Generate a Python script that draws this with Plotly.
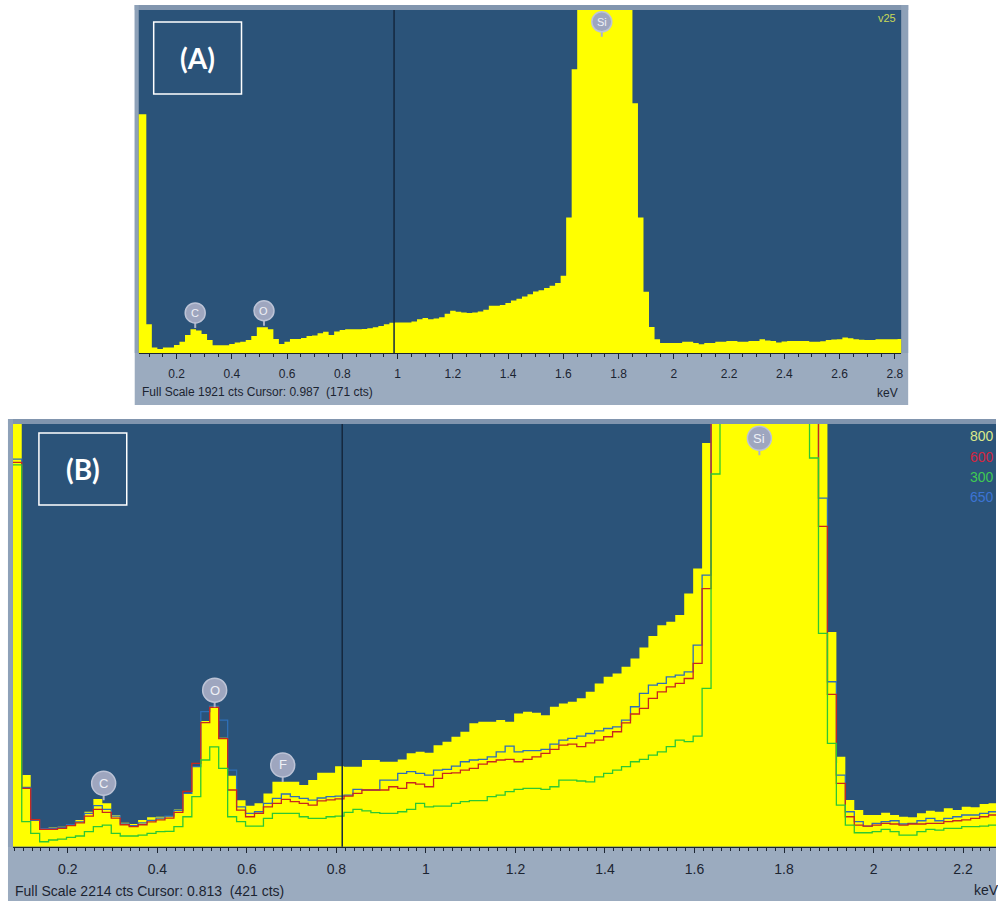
import numpy as np
import plotly.graph_objects as go

W, H = 998, 901

# ---------------- Spectrum (A): 20 eV channels, first channel centred at 0.06 keV
A_START = 0.06
A_STEP = 0.02
A_COUNTS = [
    1337, 1337, 163, 33, 24, 33, 33, 47, 65, 103,
    134, 128, 108, 75, 45, 45, 45, 52, 60, 65,
    75, 97, 146, 146, 134, 80, 52, 65, 80, 80,
    85, 97, 100, 112, 120, 103, 122, 131, 134, 134,
    134, 136, 140, 146, 153, 163, 171, 172, 172, 172,
    178, 190, 197, 191, 195, 202, 221, 238, 232, 228,
    225, 228, 234, 243, 266, 266, 270, 281, 296, 305,
    318, 330, 346, 353, 365, 378, 393, 434, 760, 1590,
    2350, 2900, 3400, 3800, 3950, 3800, 3450, 3000, 2600, 2200,
    1399, 760, 344, 147, 79, 58, 58, 58, 58, 65,
    65, 58, 51, 58, 58, 65, 65, 69, 69, 65,
    65, 69, 69, 79, 72, 69, 60, 66, 69, 69,
    69, 69, 65, 65, 67, 75, 77, 79, 88, 84,
    79, 76, 75, 75, 78, 79, 79, 79, 80,
]
A_FULL_SCALE = 1921
A_CURSOR = 0.987
A_CURSOR_CTS = 171
A_TAG = "v25"

# ---------------- Spectrum (B): four overlaid acquisitions, 20 eV channels
B_START = 0.087
B_STEP = 0.02
B_800 = [
    2600, 375, 140, 96, 100, 105, 119, 140, 183, 250,
    227, 166, 126, 119, 140, 154, 157, 160, 195, 279,
    422, 658, 736, 570, 372, 243, 214, 228, 279, 340,
    340, 340, 323, 350, 387, 387, 421, 419, 419, 454,
    454, 445, 445, 457, 489, 497, 492, 532, 550, 576,
    602, 646, 654, 654, 663, 654, 698, 707, 701, 689,
    733, 750, 759, 777, 811, 855, 890, 907, 942, 986,
    1043, 1103, 1160, 1178, 1213, 1326, 1457, 2115, 2700, 3600,
    4600, 5500, 6100, 6300, 6100, 5500, 4700, 3900, 3200, 2700,
    2350, 1125, 471, 245, 192, 166, 166, 178, 166, 157,
    154, 175, 188, 183, 201, 192, 209, 206, 223, 227,
]
B_650 = [
    2030, 310, 138, 94, 96, 100, 115, 130, 175, 215,
    195, 160, 120, 110, 125, 138, 150, 160, 190, 279,
    419, 707, 736, 663, 401, 209, 175, 183, 227, 253,
    276, 262, 253, 244, 255, 262, 265, 270, 300, 297,
    297, 349, 349, 384, 393, 384, 375, 401, 405, 422,
    445, 454, 457, 471, 497, 527, 497, 503, 503, 510,
    537, 558, 567, 579, 593, 607, 619, 628, 663, 733,
    803, 846, 855, 890, 899, 916, 1056, 1422, 2600, 3300,
    4100, 4800, 5200, 5300, 5100, 4600, 3900, 3200, 2700, 2350,
    1826, 864, 375, 183, 131, 108, 122, 131, 136, 119,
    122, 136, 148, 136, 148, 157, 166, 166, 175, 183,
]
B_600 = [
    2013, 305, 142, 91, 91, 96, 110, 125, 160, 195,
    180, 150, 115, 105, 115, 130, 140, 150, 180, 290,
    436, 650, 730, 566, 297, 192, 157, 175, 209, 227,
    248, 236, 227, 218, 240, 245, 250, 265, 279, 297,
    297, 297, 314, 305, 335, 328, 314, 358, 384, 387,
    401, 410, 433, 445, 454, 457, 445, 457, 471, 489,
    510, 532, 537, 524, 544, 558, 576, 602, 649, 695,
    724, 777, 811, 837, 855, 881, 960, 1352, 2500, 3200,
    3900, 4500, 4900, 5000, 4800, 4300, 3700, 3100, 2600, 2300,
    1678, 798, 332, 157, 113, 108, 113, 122, 119, 113,
    119, 119, 122, 122, 131, 136, 140, 148, 157, 166,
]
B_300 = [
    2000, 131, 70, 26, 35, 40, 49, 56, 79, 105,
    113, 70, 56, 56, 61, 70, 79, 80, 105, 157,
    262, 454, 523, 410, 157, 131, 108, 108, 148, 175,
    175, 175, 157, 148, 148, 157, 160, 180, 195, 188,
    178, 175, 175, 183, 195, 227, 209, 213, 213, 227,
    236, 241, 241, 262, 270, 288, 300, 305, 305, 300,
    314, 349, 349, 344, 340, 366, 384, 401, 419, 445,
    457, 480, 497, 524, 558, 550, 579, 829, 1952, 2600,
    3300, 3800, 4100, 4200, 4100, 3800, 3300, 2800, 2400, 2036,
    1117, 541, 218, 113, 73, 73, 79, 91, 79, 61,
    61, 79, 91, 87, 96, 96, 105, 105, 108, 113,
]
B_FULL_SCALE = 2214
B_CURSOR = 0.813
B_CURSOR_CTS = 421
B_SERIES_NAMES = ["800", "600", "300", "650"]

A_TICKS = [0.2, 0.4, 0.6, 0.8, 1.0, 1.2, 1.4, 1.6, 1.8, 2.0, 2.2, 2.4, 2.6, 2.8]
A_TICK_TEXT = ["0.2", "0.4", "0.6", "0.8", "1", "1.2", "1.4", "1.6", "1.8", "2",
               "2.2", "2.4", "2.6", "2.8"]
B_TICKS = [0.2, 0.4, 0.6, 0.8, 1.0, 1.2, 1.4, 1.6, 1.8, 2.0, 2.2]
B_TICK_TEXT = ["0.2", "0.4", "0.6", "0.8", "1", "1.2", "1.4", "1.6", "1.8", "2", "2.2"]

# element identification markers: (symbol, keV, counts at marker centre)
A_PEAK_MARKS = [("C", 0.267, 226), ("O", 0.516, 238), ("Si", 1.739, 1855)]
B_PEAK_MARKS = [("C", 0.280, 332), ("O", 0.528, 820), ("F", 0.680, 428), ("Si", 1.745, 2139)]

# ---------------- styling
PLOT_BLUE = "#2b5379"
FRAME_GREY = "#9babbf"
FRAME_EDGE = "#8195ae"
YELLOW = "#ffff00"
INK = "#1b2431"
C_RED = "#c8281e"
C_GREEN = "#2ec832"
C_BLUE = "#2f6fb6"
MARK_FILL = "#9ea6bf"
FONT = "Liberation Sans, Arial"


def px(x):
    return x / W


def py(y):
    return 1 - y / H


def steps(start, step, counts):
    """Channel edges and step heights for an 'hv' step outline."""
    n = len(counts)
    edges = start - step / 2 + step * np.arange(n + 1)
    heights = list(counts) + [counts[-1]]
    return edges, heights


def label(x, y, text, size, colour, xanchor="center", xref="paper", yref="paper", family=FONT):
    return dict(x=x, y=y, xref=xref, yref=yref, text=text, showarrow=False,
                xanchor=xanchor, yanchor="middle",
                font=dict(family=family, size=size, color=colour))


fig = go.Figure()

# (A) filled spectrum
ax, ay = steps(A_START, A_STEP, A_COUNTS)
fig.add_trace(go.Scatter(x=ax, y=ay, mode="lines", line=dict(shape="hv", width=0, color=YELLOW),
                         fill="tozeroy", fillcolor=YELLOW, xaxis="x", yaxis="y", hoverinfo="skip"))

# (B) filled spectrum plus three overlaid outlines
bx, by = steps(B_START, B_STEP, B_800)
fig.add_trace(go.Scatter(x=bx, y=by, mode="lines", line=dict(shape="hv", width=0, color=YELLOW),
                         fill="tozeroy", fillcolor=YELLOW, xaxis="x2", yaxis="y2", hoverinfo="skip"))
for series, colour in [(B_650, C_BLUE), (B_600, C_RED), (B_300, C_GREEN)]:
    sx, sy = steps(B_START, B_STEP, series)
    fig.add_trace(go.Scatter(x=sx, y=sy, mode="lines", line=dict(shape="hv", width=1.3, color=colour),
                             xaxis="x2", yaxis="y2", hoverinfo="skip"))

shapes = []
# panel frames and plotting areas
for (x0, y0, x1, y1, c) in [
    (135, 5, 910, 405, FRAME_GREY), (135, 5, 910, 10, FRAME_EDGE), (135, 5, 139, 353, "#8ea1b8"),
    (903, 5, 910, 353, "#8ea1b8"), (139, 10, 903, 353.3, PLOT_BLUE),
    (8, 419, 998, 901, FRAME_GREY), (8, 419, 998, 424, FRAME_EDGE), (8, 419, 13, 847, "#8ea1b8"),
    (13, 424, 998, 846.7, PLOT_BLUE),
]:
    shapes.append(dict(type="rect", xref="paper", yref="paper", x0=px(x0), x1=px(x1),
                       y0=py(y1), y1=py(y0), fillcolor=c, line=dict(width=0), layer="below"))

# cursor lines
for xref, yref, xc in [("x", "y domain", A_CURSOR), ("x2", "y2 domain", B_CURSOR)]:
    shapes.append(dict(type="line", xref=xref, yref=yref, x0=xc, x1=xc, y0=0, y1=1,
                       line=dict(color="#15283f", width=1.5), layer="above"))

# panel tag boxes
for (x0, y0, x1, y1) in [(154, 22, 242, 94), (39, 433, 127, 505)]:
    shapes.append(dict(type="rect", xref="paper", yref="paper", x0=px(x0), x1=px(x1),
                       y0=py(y1), y1=py(y0), line=dict(color="white", width=1.5), layer="above"))

annotations = []
# element markers
for marks, xref, yref, r, fs in [(A_PEAK_MARKS, "x", "y", 10, 11), (B_PEAK_MARKS, "x2", "y2", 12, 13)]:
    for sym, e, c in marks:
        shapes.append(dict(type="line", xref=xref, yref=yref, xsizemode="pixel", ysizemode="pixel",
                           xanchor=e, yanchor=c, x0=0, x1=0, y0=-r + 1, y1=-r - 5,
                           line=dict(color="#aab2c8", width=2), layer="above"))
        shapes.append(dict(type="circle", xref=xref, yref=yref, xsizemode="pixel", ysizemode="pixel",
                           xanchor=e, yanchor=c, x0=-r, x1=r, y0=-r, y1=r,
                           fillcolor=MARK_FILL, line=dict(color="#bcc3d6", width=1.5), layer="above"))
        annotations.append(label(e, c, sym, fs, "#eef0f6", xref=xref, yref=yref))

# panel tags
annotations.append(label(px(198), py(58), "<b>(A)</b>", 28, "white", family="Lato, Open Sans"))
annotations.append(label(px(83), py(469), "<b>(B)</b>", 28, "white", family="Lato, Open Sans"))

annotations.append(label(px(900), py(18), A_TAG, 11, "#c9d957", xanchor="right"))

# series labels for (B)
for name, colour, yy in zip(B_SERIES_NAMES, ["#dbe98a", "#d3263f", "#3fca52", "#3c74d4"],
                            [436, 457, 477, 497]):
    annotations.append(label(px(970), py(yy), name, 14, colour, xanchor="left"))

# status lines and units
nb = "\u00a0"
annotations.append(label(px(140), py(392),
                         f"Full Scale {A_FULL_SCALE} cts Cursor: {A_CURSOR:.3f} {nb}({A_CURSOR_CTS} cts)",
                         12, INK, xanchor="left"))
annotations.append(label(px(902), py(393), "keV", 12, INK, xanchor="right"))
annotations.append(label(px(13), py(891),
                         f"Full Scale {B_FULL_SCALE} cts Cursor: {B_CURSOR:.3f} {nb}({B_CURSOR_CTS} cts)",
                         14, INK, xanchor="left"))
annotations.append(label(px(974), py(890), "keV", 14, INK, xanchor="left"))


def energy_axis(domain, rng, anchor, ticks, labels, minor_step, fs):
    return dict(domain=domain, range=rng, anchor=anchor, tickmode="array", tickvals=ticks, ticktext=labels,
                ticks="outside", ticklen=5, tickwidth=1, tickcolor=INK, showline=True, linecolor=INK,
                linewidth=1, showgrid=False, zeroline=False, ticklabelstandoff=4,
                tickfont=dict(family=FONT, size=fs, color=INK),
                minor=dict(tickmode="linear", tick0=0, dtick=minor_step, ticks="outside", ticklen=3,
                           tickcolor=INK, showgrid=False))


fig.update_layout(
    width=W, height=H, margin=dict(l=0, r=0, t=0, b=0),
    paper_bgcolor="white", plot_bgcolor="rgba(0,0,0,0)", showlegend=False,
    xaxis=energy_axis([px(139), px(903)], [0.0625, 2.823], "y", A_TICKS, A_TICK_TEXT, 0.05, 12),
    yaxis=dict(domain=[py(353.3), py(10)], range=[0, A_FULL_SCALE], visible=False),
    xaxis2=energy_axis([px(13), 1.0], [0.0774, 2.2736], "y2", B_TICKS, B_TICK_TEXT, 0.02, 14),
    yaxis2=dict(domain=[py(846.7), py(424)], range=[0, B_FULL_SCALE], visible=False),
    shapes=shapes, annotations=annotations,
)

fig.write_html("out.html")
